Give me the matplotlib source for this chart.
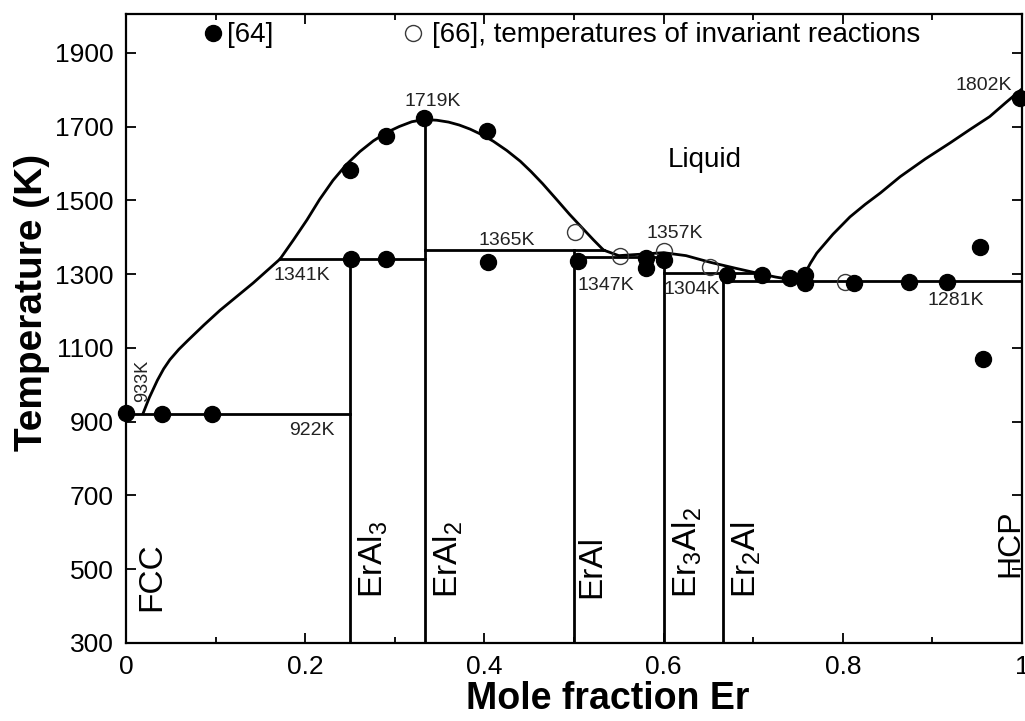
import matplotlib
matplotlib.use('Agg')
import matplotlib.pyplot as plt
from matplotlib.ticker import MultipleLocator
from matplotlib.lines import Line2D

plt.rcParams['font.family'] = ['Liberation Sans', 'DejaVu Sans']
plt.rcParams['mathtext.fontset'] = 'custom'
plt.rcParams['mathtext.rm'] = 'Liberation Sans'
plt.rcParams['mathtext.it'] = 'Liberation Sans:italic'
plt.rcParams['mathtext.bf'] = 'Liberation Sans:bold'

# ---------------- data ----------------
# liquidus segments
liq1_x = [0.019, 0.026, 0.035, 0.042, 0.049, 0.059, 0.069, 0.087, 0.105, 0.124, 0.142, 0.172]
liq1_T = [922, 965, 1012, 1043, 1068, 1096, 1120, 1162, 1202, 1240, 1276, 1341]
liq2_x = [0.172, 0.187, 0.202, 0.216, 0.231, 0.246, 0.261, 0.276, 0.291, 0.305, 0.319, 0.333]
liq2_T = [1341, 1393, 1447, 1502, 1554, 1597, 1632, 1661, 1684, 1700, 1713, 1719]
liq3_x = [0.333, 0.347, 0.36, 0.372, 0.384, 0.397, 0.41, 0.425, 0.44, 0.452, 0.465,
          0.481, 0.495, 0.51, 0.522, 0.533]
liq3_T = [1719, 1717, 1712, 1704, 1693, 1678, 1660, 1635, 1606, 1578, 1545,
          1501, 1462, 1423, 1392, 1365]
liq4_x = [0.533, 0.55, 0.575, 0.6, 0.625, 0.652, 0.68, 0.70, 0.725, 0.752]
liq4_T = [1365, 1350, 1354, 1358, 1350, 1332, 1316, 1305, 1292, 1281]
liq5_x = [0.752, 0.758, 0.764, 0.771, 0.789, 0.808, 0.825, 0.842, 0.864, 0.892,
          0.92, 0.942, 0.964, 0.982, 1.0]
liq5_T = [1281, 1303, 1330, 1357, 1408, 1455, 1489, 1520, 1564, 1612,
          1656, 1692, 1727, 1765, 1802]

# invariant reaction lines
inv_T = [922, 1341, 1365, 1347, 1304, 1281]
inv_x0 = [0.0, 0.172, 1 / 3, 0.5, 0.6, 2 / 3]
inv_x1 = [0.25, 1 / 3, 0.533, 0.6, 0.70, 1.0]

# intermetallic compounds
comp_x = [0.25, 1 / 3, 0.5, 0.6, 2 / 3]
comp_top = [1341, 1719, 1365, 1357, 1304]
comp_names = [r'ErAl$_\mathregular{3}$', r'ErAl$_\mathregular{2}$', 'ErAl',
              r'Er$_\mathregular{3}$Al$_\mathregular{2}$', r'Er$_\mathregular{2}$Al']
comp_label_x = [0.2868, 0.3705, 0.529, 0.637, 0.703]

# experimental data [64] (filled)
x64 = [0.0, 0.040, 0.096, 0.25, 0.290, 0.333, 0.403, 0.251, 0.290, 0.404,
       0.505, 0.580, 0.580, 0.601, 0.671, 0.710, 0.741, 0.758, 0.758, 0.812,
       0.874, 0.916, 0.953, 0.957, 0.998]
T64 = [924, 922, 922, 1583, 1673, 1722, 1689, 1341, 1341, 1333,
       1336, 1343, 1316, 1338, 1297, 1297, 1289, 1297, 1276, 1276,
       1278, 1278, 1373, 1071, 1776]
# experimental data [66] (open)
x66 = [0.501, 0.551, 0.600, 0.652, 0.802]
T66 = [1414, 1349, 1362, 1319, 1278]

# temperature annotations
ann_text = ['1719K', '1341K', '922K', '1365K', '1347K', '1357K', '1304K', '1281K', '1802K']
ann_x = [0.342, 0.196, 0.207, 0.425, 0.535, 0.612, 0.632, 0.926, 0.957]
ann_T = [1768, 1297, 875, 1390, 1270, 1409, 1259, 1229, 1812]

xticks = [0, 0.2, 0.4, 0.6, 0.8, 1]
xticklabels = ['0', '0.2', '0.4', '0.6', '0.8', '1']
yticks = [300, 500, 700, 900, 1100, 1300, 1500, 1700, 1900]

# ---------------- figure ----------------
fig = plt.figure(figsize=(10.25, 7.21), dpi=100)
ax = fig.add_axes([126 / 1025, 1 - 643 / 721, 896 / 1025, 629 / 721])

lw = 2.0
for xs, ts in [(liq1_x, liq1_T), (liq2_x, liq2_T), (liq3_x, liq3_T),
               (liq4_x, liq4_T), (liq5_x, liq5_T)]:
    ax.plot(xs, ts, color='black', lw=lw, solid_joinstyle='round', zorder=2)

for T, a, b in zip(inv_T, inv_x0, inv_x1):
    ax.plot([a, b], [T, T], color='black', lw=lw, zorder=2)

for x, top in zip(comp_x, comp_top):
    ax.plot([x, x], [300, top], color='black', lw=lw, zorder=2)

ax.plot(x64, T64, linestyle='none', marker='o', markersize=11.5,
        markerfacecolor='black', markeredgecolor='black', zorder=4, clip_on=False)
ax.plot(x66, T66, linestyle='none', marker='o', markersize=11.5,
        markerfacecolor='none', markeredgecolor='#3a3a3a', markeredgewidth=1.0,
        zorder=3, clip_on=False)

for t, x, T in zip(ann_text, ann_x, ann_T):
    ax.text(x, T, t, fontsize=14, ha='center', va='center', color='#222222')
ax.text(0.0234, 952, '933K', fontsize=13, rotation=90, rotation_mode='anchor',
        ha='left', va='baseline', color='#222222')

for name, lx in zip(comp_names, comp_label_x):
    ax.text(lx, 421, name, fontsize=24, rotation=90, rotation_mode='anchor',
            ha='left', va='baseline')
ax.text(0.038, 386, 'FCC', fontsize=24, rotation=90, rotation_mode='anchor',
        ha='left', va='baseline')
ax.text(0.9955, 478, 'HCP', fontsize=23, rotation=90, rotation_mode='anchor',
        ha='left', va='baseline')

ax.text(0.646, 1591, 'Liquid', fontsize=20, ha='center', va='baseline')

# legend
h64 = Line2D([], [], linestyle='none', marker='o', markersize=11.5,
             markerfacecolor='black', markeredgecolor='black')
h66 = Line2D([], [], linestyle='none', marker='o', markersize=11.5,
             markerfacecolor='none', markeredgecolor='#3a3a3a', markeredgewidth=1.0)
leg1 = ax.legend([h64], ['[64]'], loc='center left', bbox_to_anchor=(0.088, 0.966),
                 frameon=False, fontsize=20, handlelength=0.6, handletextpad=0.2,
                 borderpad=0, borderaxespad=0)
ax.add_artist(leg1)
ax.legend([h66], ['[66], temperatures of invariant reactions'], loc='center left',
          bbox_to_anchor=(0.311, 0.966), frameon=False, fontsize=20,
          handlelength=0.6, handletextpad=0.4, borderpad=0, borderaxespad=0)

ax.set_xlim(0, 1)
ax.set_ylim(300, 2005)
ax.set_xticks(xticks)
ax.set_xticklabels(xticklabels)
ax.xaxis.set_minor_locator(MultipleLocator(0.1))
ax.set_yticks(yticks)
ax.tick_params(axis='both', which='major', direction='in', length=7, width=1.3,
               top=True, right=True, labelsize=19, pad=9)
ax.tick_params(axis='x', which='minor', direction='in', length=4, width=1.3,
               top=True, bottom=True)
for s in ax.spines.values():
    s.set_linewidth(1.6)

ax.set_xlabel('Mole fraction Er', fontsize=27, fontweight='bold')
ax.set_ylabel('Temperature (K)', fontsize=28, fontweight='bold')
ax.xaxis.set_label_coords(0.538, -0.060)
ax.yaxis.set_label_coords(-0.085, 0.542)

fig.savefig('out.png', dpi=100)
